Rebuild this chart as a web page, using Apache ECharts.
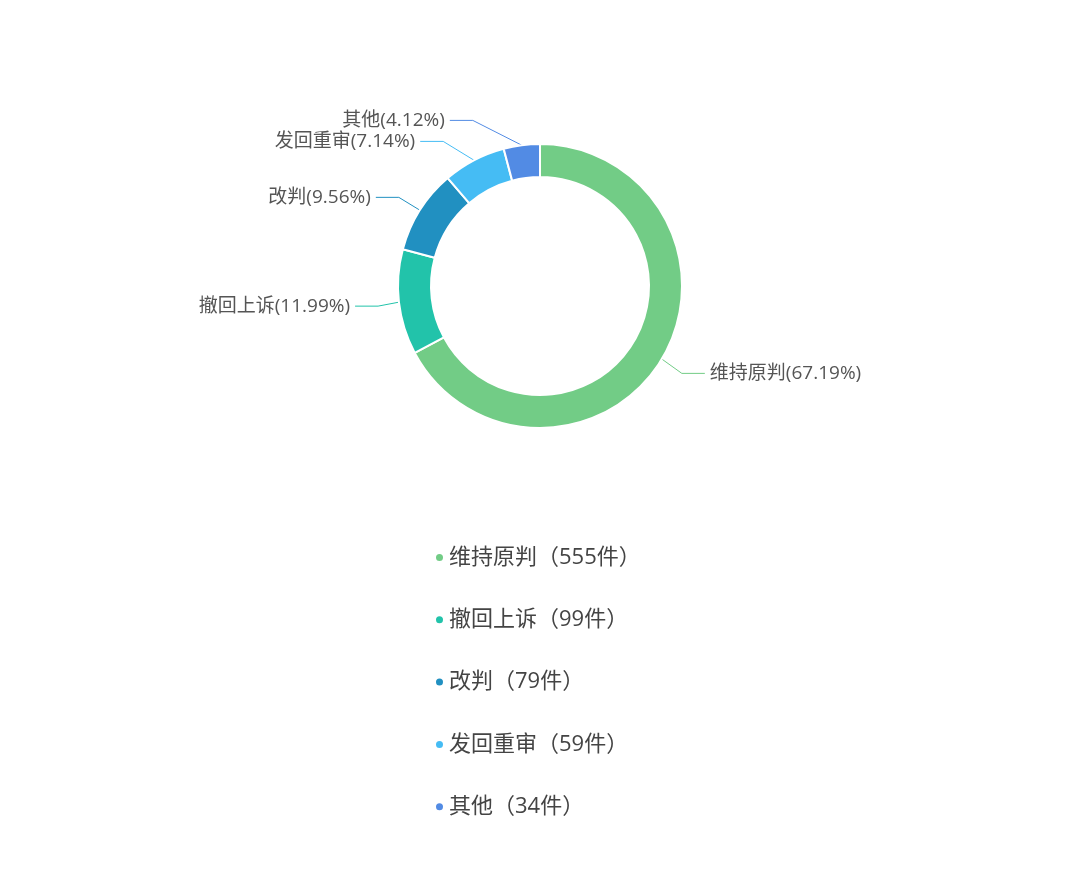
<!DOCTYPE html>
<html><head><meta charset="utf-8">
<script src="https://cdn.jsdelivr.net/npm/echarts@6/dist/echarts.min.js"></script>
<style>html,body{margin:0;padding:0;background:#fff}#c{width:1080px;height:874px}</style>
</head><body><div id="c"></div>
<script>
const categories = ['维持原判','撤回上诉','改判','发回重审','其他'];
const values = [555, 99, 79, 59, 34];
const colors = ['#72cc86','#22c3aa','#2190c1','#45bcf4','#528be4'];
const chart = echarts.init(document.getElementById('c'));
const valMap = {};
categories.forEach((c,i)=>valMap[c]=values[i]);
const FF = '"Open Sans", "Noto Sans CJK SC", sans-serif';
const CX = 540, CY = 286, R_IN = 109, R_OUT = 142, LEN1 = 26, LEN2 = 23;
chart.setOption({
  color: colors,
  textStyle:{fontFamily:FF},
  legend:{
    orient:'vertical', left:429, top:541.5, itemGap:40.3,
    icon:'circle', itemWidth:9, itemHeight:9,
    textStyle:{fontSize:22, color:'#444', fontFamily:FF},
    formatter: n => n + '（' + valMap[n] + '件）'
  },
  series:[{
    type:'pie', center:[CX,CY], radius:[R_IN,R_OUT],
    startAngle:90,
    itemStyle:{borderColor:'#fff', borderWidth:2},
    label:{formatter:'{b}({d}%)', fontSize:19, color:'#555', fontFamily:FF},
    labelLine:{length:LEN1, length2:LEN2},
    labelLayout: function (p) {
      const rect = p.labelRect;
      const pts = p.labelLinePoints;
      if (!pts) return {};
      const y = rect.y + rect.height / 2 + 1;
      const dir = pts[0][0] < CX ? -1 : 1;
      const RR = R_OUT + LEN1 + LEN2;
      const dy = Math.abs(y - CY);
      const dx = Math.sqrt(Math.max(RR * RR - dy * dy, 0));
      const tx = CX + dir * dx;
      const lineEnd = tx - dir * 5;
      const knee = lineEnd - dir * LEN2;
      return {
        x: tx, y: y,
        align: dir < 0 ? 'right' : 'left',
        verticalAlign: 'middle',
        labelLinePoints: [pts[0], [knee, y], [lineEnd, y]]
      };
    },
    data: categories.map((c,i)=>({name:c, value:values[i]}))
  }]
});
</script></body></html>
